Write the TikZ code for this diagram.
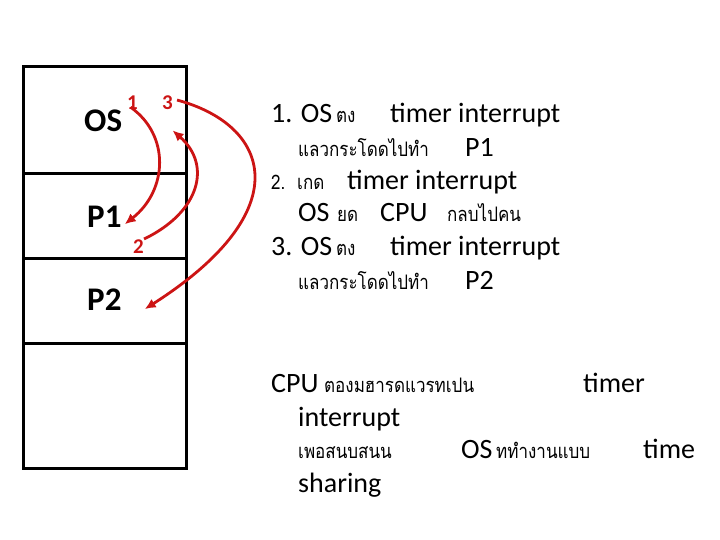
\documentclass[tikz,border=0pt]{standalone}
\usepackage{fontspec}
\setmainfont{Carlito}
\newfontfamily\thaifont[Script=Thai, FakeStretch=0.85]{Loma}
\usetikzlibrary{arrows.meta}
\definecolor{jumpred}{RGB}{204,20,20}

\begin{document}
\begin{tikzpicture}[x=1pt, y=-1pt,
	every node/.style={inner sep=0pt, anchor=base west, font=\fontsize{28}{30}\selectfont},
	thai/.style={font=\thaifont\fontsize{20}{22}\selectfont},
	part/.style={font=\bfseries\fontsize{33}{35}\selectfont},
	num/.style={text=jumpred, font=\bfseries\fontsize{21}{23}\selectfont},
	>={Latex[length=11pt, width=10pt]}]
	\useasboundingbox (0,0) rectangle (720,540);

	% memory
	\draw[line width=3pt] (23,67) rectangle (186,468);
	\draw[line width=3pt] (23,174) -- (186,174);
	\draw[line width=3pt] (23,258) -- (186,258);
	\draw[line width=3pt] (23,343) -- (186,343);
	\node[part] (os) at (84,132) {OS};
	\node[part] (p1) at (87,227) {P1};
	\node[part] (p2) at (87,310) {P2};
	\node[num] (one) at (127,110) {1};
	\node[num] (two) at (133,253) {2};
	\node[num] (three) at (162,110) {3};

	% jumps
	\draw[->, jumpred, line width=2.8pt] ([xshift=-2pt, yshift=3pt]one.south) .. controls (170,135) and (168,190) .. ([xshift=3pt, yshift=-8pt]p1.east);
	\draw[->, jumpred, line width=2.8pt] (two.north east) .. controls (200,212) and (212,165) .. ([xshift=5pt, yshift=-20pt]three.south);
	\draw[->, jumpred, line width=2.8pt] ([xshift=4pt, yshift=-4pt]three.north east) .. controls (270,125) and (300,210) .. ([xshift=23pt, yshift=-10pt]p2.east);

	% steps
	\node (s1a) at (271,123) {1. OS};
	\node[thai] (s1b) at (336,123) {ตง};
	\node (s1c) at (390,123) {timer interrupt};
	\node[thai] (s1d) at (298,157) {แลวกระโดดไปทำ};
	\node (s1e) at (465,157) {P1};
	\node[thai] (s2a) at (271,190) {2.};
	\node[thai] (s2b) at (297,190) {เกด};
	\node (s2c) at (347,190) {timer interrupt};
	\node (s2d) at (298,222) {OS};
	\node[thai] (s2e) at (337,222) {ยด};
	\node (s2f) at (380,222) {CPU};
	\node[thai] (s2g) at (447,222) {กลบไปคน};
	\node (s3a) at (271,255) {3. OS};
	\node[thai] (s3b) at (336,255) {ตง};
	\node (s3c) at (390,255) {timer interrupt};
	\node[thai] (s3d) at (298,289) {แลวกระโดดไปทำ};
	\node (s3e) at (465,289) {P2};

	% note
	\node (n1) at (271,392) {CPU};
	\node[thai] (n2) at (324,392) {ตองมฮารดแวรทเปน};
	\node (n3) at (583,392) {timer};
	\node (n4) at (298,426) {interrupt};
	\node[thai] (n5) at (298,458) {เพอสนบสนน};
	\node (n6) at (461,458) {OS};
	\node[thai] (n7) at (496,458) {ททำงานแบบ};
	\node (n8) at (643,458) {time};
	\node (n9) at (298,492) {sharing};
\end{tikzpicture}
\end{document}
